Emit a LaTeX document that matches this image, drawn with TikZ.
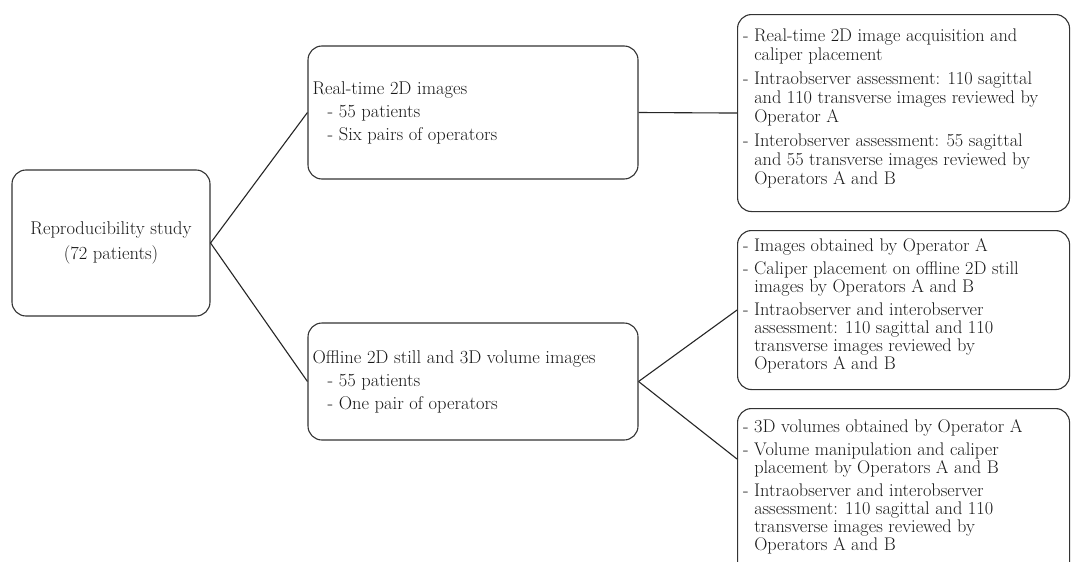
\documentclass[tikz,border=0pt]{standalone}
\newcommand\hind{\hphantom{-\ }}
\begin{document}
\begin{tikzpicture}[x=1pt,y=-1pt,
  box/.style={draw=black!80, line width=1.1pt, rounded corners=14pt, inner sep=0pt},
  txt/.style={inner sep=0pt, align=left, text=black!90},
  conn/.style={draw=black!85, line width=1.1pt}]
\clip (0,0) rectangle (1071,562);
\fill[white] (0,0) rectangle (1071,562);
% root
\node[box, minimum width=198pt, minimum height=146pt, align=center, text=black!90,
  font=\fontsize{18.5}{25}\selectfont] (root) at (111,243) {Reproducibility study\\(72 patients)};
% middle boxes
\node[box, minimum width=330pt, minimum height=133pt] (b2) at (473,112.5) {};
\node[txt, font=\fontsize{18.5}{23}\selectfont, anchor=west] (t2) at ([xshift=5pt]b2.west)
  {Real-time 2D images\\\hspace*{15pt}- 55 patients\\\hspace*{15pt}- Six pairs of operators};
\node[box, minimum width=330pt, minimum height=117pt] (b3) at (473,381.5) {};
\node[txt, font=\fontsize{18.5}{23}\selectfont, anchor=west] (t3) at ([xshift=5pt]b3.west)
  {Offline 2D still and 3D volume images\\\hspace*{15pt}- 55 patients\\\hspace*{15pt}- One pair of operators};
% right boxes
\node[box, minimum width=332pt, minimum height=197pt, anchor=north west] (b4) at (737,14) {};
\node[txt, font=\fontsize{18.3}{19}\selectfont, anchor=north west] (t4) at ([xshift=6pt,yshift=-15pt]b4.north west)
  {- Real-time 2D image acquisition and\\\hind caliper placement\\[5pt]- Intraobserver assessment: 110 sagittal\\\hind and 110 transverse images reviewed by\\\hind Operator A\\[5pt]- Interobserver assessment: 55 sagittal\\\hind and 55 transverse images reviewed by\\\hind Operators A and B};
\node[box, minimum width=332pt, minimum height=159pt, anchor=north west] (b5) at (737,230) {};
\node[txt, font=\fontsize{18.3}{18}\selectfont, anchor=north west] (t5) at ([xshift=6pt,yshift=-8pt]b5.north west)
  {- Images obtained by Operator A\\[5pt]- Caliper placement on offline 2D still\\\hind images by Operators A and B\\[5pt]- Intraobserver and interobserver\\\hind assessment: 110 sagittal and 110\\\hind transverse images reviewed by\\\hind Operators A and B};
\node[box, minimum width=332pt, minimum height=200pt, anchor=north west] (b6) at (737,408) {};
\node[txt, font=\fontsize{18.3}{18}\selectfont, anchor=north west] (t6) at ([xshift=6pt,yshift=-11pt]b6.north west)
  {- 3D volumes obtained by Operator A\\[5pt]- Volume manipulation and caliper\\\hind placement by Operators A and B\\[5pt]- Intraobserver and interobserver\\\hind assessment: 110 sagittal and 110\\\hind transverse images reviewed by\\\hind Operators A and B};
% connectors
\coordinate (b6in) at ([yshift=-51pt]b6.north west);
\draw[conn] (root.east) -- (b2.west);
\draw[conn] (root.east) -- (b3.west);
\draw[conn] (b2.east) -- (b4.west);
\draw[conn] (b3.east) -- (b5.west);
\draw[conn] (b3.east) -- (b6in);
\end{tikzpicture}
\end{document}
